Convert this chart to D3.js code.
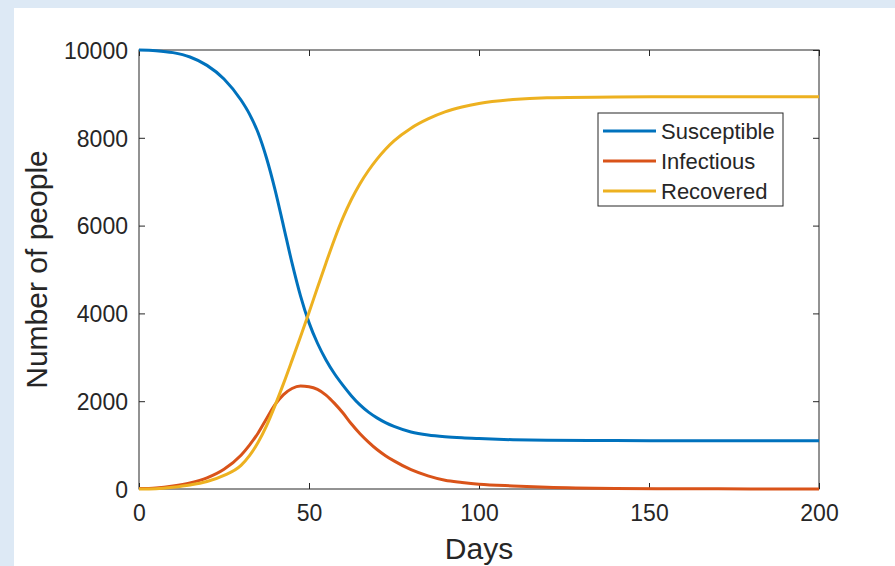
<!DOCTYPE html>
<html>
<head>
<meta charset="utf-8">
<script src="https://cdn.jsdelivr.net/npm/d3@7"></script>
<style>
  html, body { margin: 0; padding: 0; background: #dde9f5; }
  svg { display: block; }
  text { font-family: "Liberation Sans", Arial, Helvetica, sans-serif; fill: #262626; }
</style>
</head>
<body>
<script>
// ---- data ----
const days        = [0, 5, 10, 15, 20, 25, 30, 32.5, 35, 37.5, 40, 42.5, 45, 47.5, 50, 52.5, 55, 57.5, 60, 62.5, 65, 67.5, 70, 72.5, 75, 80, 85, 90, 95, 100, 110, 120, 140, 160, 180, 200];
const susceptible = [10000, 9985, 9940, 9840, 9650, 9340, 8860, 8540, 8120, 7540, 6820, 5990, 5150, 4400, 3790, 3320, 2940, 2625, 2360, 2120, 1915, 1750, 1620, 1512, 1425, 1300, 1230, 1190, 1165, 1148, 1122, 1110, 1102, 1100, 1100, 1100];
const infectious  = [10, 25, 70, 140, 255, 450, 770, 1000, 1270, 1600, 1920, 2150, 2290, 2345, 2330, 2270, 2140, 1950, 1730, 1480, 1260, 1070, 900, 760, 640, 440, 300, 200, 150, 110, 70, 42, 14, 5, 2, 1];
const recovered   = [0, 8, 40, 90, 170, 310, 540, 760, 1060, 1440, 1900, 2400, 2930, 3470, 4020, 4590, 5150, 5690, 6180, 6600, 6955, 7255, 7515, 7740, 7930, 8220, 8430, 8590, 8700, 8780, 8870, 8912, 8932, 8936, 8937, 8937];
const xTicks = [0, 50, 100, 150, 200];
const yTicks = [0, 2000, 4000, 6000, 8000, 10000];
const seriesNames = ["Susceptible", "Infectious", "Recovered"];
const seriesColors = ["#0072BD", "#D95319", "#EDB120"];

const W = 895, H = 566;
const svg = d3.select("body").append("svg").attr("width", W).attr("height", H);

// white figure area
svg.append("rect").attr("x", 14).attr("y", 8).attr("width", W - 14).attr("height", H - 8).attr("fill", "#ffffff");

const L = 139, R = 819, T = 50, B = 489;
const x = d3.scaleLinear().domain([0, 200]).range([L, R]);
const y = d3.scaleLinear().domain([0, 10000]).range([B, T]);

const axisColor = "#262626";
const tickLen = 6;

// box
svg.append("rect").attr("x", L).attr("y", T).attr("width", R - L).attr("height", B - T)
  .attr("fill", "none").attr("stroke", axisColor).attr("stroke-width", 1);

// axes via d3 (inward ticks)
const gx = svg.append("g").attr("transform", `translate(0,${B})`)
  .call(d3.axisBottom(x).tickValues(xTicks).tickSize(-tickLen).tickPadding(tickLen + 10).tickFormat(d3.format("d")));
const gxTop = svg.append("g").attr("transform", `translate(0,${T})`)
  .call(d3.axisTop(x).tickValues(xTicks).tickSize(-tickLen).tickFormat(""));
const gy = svg.append("g").attr("transform", `translate(${L},0)`)
  .call(d3.axisLeft(y).tickValues(yTicks).tickSize(-tickLen).tickPadding(tickLen + 5).tickFormat(d3.format("d")));
const gyR = svg.append("g").attr("transform", `translate(${R},0)`)
  .call(d3.axisRight(y).tickValues(yTicks).tickSize(-tickLen).tickFormat(""));

[gx, gxTop, gy, gyR].forEach(g => {
  g.select(".domain").remove();
  g.selectAll(".tick line").attr("stroke", axisColor).attr("stroke-width", 1);
  g.selectAll("text").attr("fill", axisColor).style("font-size", "23px")
    .style("font-family", '"Liberation Sans", Arial, sans-serif');
});
gx.selectAll(".tick text").attr("dy", "0.71em");
gy.selectAll(".tick text").attr("dy", "0.36em");

// lines
const seriesData = [susceptible, infectious, recovered];
const line = d3.line()
  .x((d, i) => x(days[i]))
  .y(d => y(d))
  .curve(d3.curveMonotoneX);

seriesData.forEach((vals, k) => {
  svg.append("path").datum(vals)
    .attr("d", line)
    .attr("fill", "none")
    .attr("stroke", seriesColors[k])
    .attr("stroke-width", 3)
    .attr("stroke-linejoin", "round");
});

// axis labels
svg.append("text").attr("x", (L + R) / 2).attr("y", 559).attr("text-anchor", "middle")
  .style("font-size", "30px").text("Days");
svg.append("text").attr("transform", `translate(47,${(T + B) / 2}) rotate(-90)`)
  .attr("text-anchor", "middle").style("font-size", "30px").text("Number of people");

// legend
const lg = svg.append("g");
lg.append("rect").attr("x", 598).attr("y", 113).attr("width", 185).attr("height", 93)
  .attr("fill", "#ffffff").attr("stroke", axisColor).attr("stroke-width", 1);
seriesNames.forEach((name, k) => {
  const cy = 131 + k * 30;
  lg.append("line").attr("x1", 603).attr("x2", 656).attr("y1", cy).attr("y2", cy)
    .attr("stroke", seriesColors[k]).attr("stroke-width", 3);
  lg.append("text").attr("x", 661).attr("y", cy).attr("dy", "0.36em")
    .style("font-size", "22px").text(name);
});
</script>
</body>
</html>
